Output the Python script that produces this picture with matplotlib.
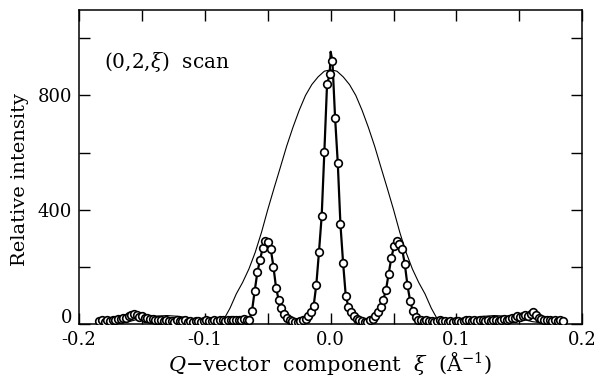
import numpy as np
import matplotlib
matplotlib.use("Agg")
import matplotlib.pyplot as plt
from matplotlib.ticker import MultipleLocator, FormatStrFormatter, FixedLocator, FixedFormatter

scan_start = -0.184
scan_step = 0.002131
intensity = [
    10, 12, 8, 14, 10, 15, 12, 18, 16, 20,
    22, 26, 32, 36, 30, 24, 26, 20, 22, 16,
    18, 14, 12, 15, 10, 12, 9, 11, 8, 12,
    10, 9, 12, 8, 10, 7, 9, 11, 8, 10,
    12, 9, 11, 13, 10, 12, 14, 11, 13, 12,
    15, 12, 14, 13, 16, 12, 15, 45, 115, 180,
    225, 265, 290, 285, 262, 200, 125, 82, 55, 35,
    22, 15, 10, 8, 8, 10, 12, 18, 26, 42,
    63, 137, 253, 378, 603, 839, 874, 922, 722, 564,
    348, 212, 96, 60, 43, 29, 18, 12, 10, 8,
    8, 12, 18, 28, 40, 60, 85, 120, 175, 232,
    272, 290, 280, 262, 210, 135, 80, 45, 25, 15,
    12, 10, 12, 9, 11, 8, 10, 12, 9, 11,
    8, 10, 7, 9, 11, 8, 10, 12, 14, 11,
    13, 10, 12, 15, 11, 13, 10, 12, 14, 11,
    13, 16, 14, 18, 22, 20, 26, 24, 28, 30,
    26, 34, 40, 30, 22, 18, 14, 12, 15, 11,
    12, 10, 13, 9,
]
# apex of the fitted (thick) curve
apex_x = 0.0
apex_y = 953

# broad thin curve
thin_x = [-0.185, -0.17, -0.16, -0.15, -0.14, -0.13, -0.12, -0.11, -0.10,
          -0.09, -0.085, -0.08, -0.075, -0.07, -0.065, -0.06, -0.055, -0.05,
          -0.045, -0.04, -0.035, -0.03, -0.025, -0.02, -0.015, -0.01, -0.005,
          0.0, 0.005, 0.01, 0.015, 0.02, 0.025, 0.03, 0.035, 0.04, 0.045,
          0.05, 0.055, 0.06, 0.065, 0.07, 0.075, 0.08, 0.085, 0.09, 0.10,
          0.11, 0.12, 0.13, 0.14, 0.15, 0.16, 0.17, 0.185]
thin_y = [6, 2, 8, 20, 27, 29, 26, 18, 8,
          2, 15, 55, 105, 145, 192, 250, 320, 400,
          475, 548, 622, 688, 748, 800, 838, 865, 885,
          890, 885, 865, 838, 800, 748, 688, 622, 548, 475,
          400, 320, 250, 192, 145, 105, 55, 15, 2, 8,
          18, 26, 29, 27, 20, 8, 2, 6]

y_ticks = [0, 400, 800]
y_ticklabels = ['0', '400', '800']

scan_x = scan_start + scan_step * np.arange(len(intensity))
scan_y = np.array(intensity, dtype=float)

# thick line goes through the points plus the apex
ins = np.searchsorted(scan_x, apex_x)
line_x = np.insert(scan_x, ins, apex_x)
line_y = np.insert(scan_y, ins, apex_y)

plt.rcParams['font.family'] = ['DejaVu Serif']
plt.rcParams['mathtext.fontset'] = 'dejavuserif'

fig = plt.figure(figsize=(5.99, 3.77), dpi=100)
ax = fig.add_axes([0.132, 0.141, 0.840, 0.833])

ax.plot(thin_x, thin_y, color='black', linewidth=0.8)
ax.plot(line_x, line_y, color='black', linewidth=1.6, zorder=3)
ax.plot(scan_x, scan_y, 'o', markersize=5.5, markerfacecolor='white',
        markeredgecolor='black', markeredgewidth=1.2, zorder=4)

ax.set_xlim(-0.2, 0.2)
ax.set_ylim(0, 1100)
ax.xaxis.set_major_locator(MultipleLocator(0.1))
ax.xaxis.set_minor_locator(MultipleLocator(0.05))
ax.xaxis.set_major_formatter(FormatStrFormatter('%.1f'))
# the "0" label sits a little above its tick in the original, so it is placed by hand
ax.yaxis.set_major_locator(FixedLocator(y_ticks))
ax.yaxis.set_major_formatter(FixedFormatter([''] + y_ticklabels[1:]))
ax.yaxis.set_minor_locator(MultipleLocator(200))
ax.tick_params(which='both', direction='in', top=True, right=True,
               length=8, width=1.0, labelsize=13)
ax.tick_params(axis='x', pad=5)
ax.tick_params(axis='y', pad=5)
for s in ax.spines.values():
    s.set_linewidth(1.1)
ax.annotate(y_ticklabels[0], xy=(0, y_ticks[0]), xycoords=('axes fraction', 'data'),
            xytext=(-7, 6), textcoords='offset pixels', ha='right', va='center',
            fontsize=13)

ax.set_xlabel(r'$Q$$-$vector  component  $\xi$  (Å$^{-1}$)', fontsize=15, labelpad=1)
ax.set_ylabel('Relative intensity', fontsize=14, labelpad=5)
ax.yaxis.set_label_coords(-0.10, 0.46)
ax.text(0.05, 0.815, r'(0,2,$\xi$)  scan', transform=ax.transAxes, fontsize=14.5)

fig.savefig('out.png', dpi=100)
